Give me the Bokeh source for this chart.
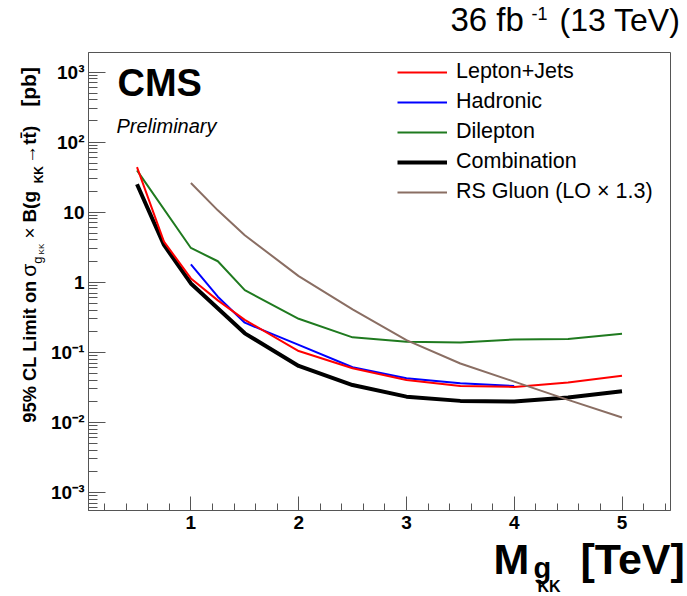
import math
from bokeh.plotting import figure
from bokeh.layouts import column, row
from bokeh.models import Range1d, FixedTicker, Label, Legend, LegendItem
from bokeh.embed import file_html
from bokeh.resources import INLINE

# Expected 95% CL upper limits on sigma x B(g_KK -> ttbar) [pb] versus KK gluon mass [TeV]
mass_lj = [0.5, 0.75, 1.0, 1.25, 1.5, 2.0, 2.5, 3.0, 3.5, 4.0, 4.5, 5.0]
limit_lj = [44.0, 3.8, 1.13, 0.55, 0.29, 0.104, 0.059, 0.040, 0.033, 0.032, 0.037, 0.046]

mass_had = [1.0, 1.25, 1.5, 2.0, 2.5, 3.0, 3.5, 4.0]
limit_had = [1.79, 0.62, 0.264, 0.127, 0.061, 0.0424, 0.036, 0.033]

mass_dil = [0.5, 1.0, 1.25, 1.5, 2.0, 2.5, 3.0, 3.5, 4.0, 4.5, 5.0]
limit_dil = [39.5, 3.08, 1.99, 0.77, 0.30, 0.163, 0.141, 0.138, 0.152, 0.154, 0.184]

mass_comb = [0.5, 0.75, 1.0, 1.5, 2.0, 2.5, 3.0, 3.5, 4.0, 4.5, 5.0]
limit_comb = [25.0, 3.4, 0.96, 0.186, 0.0636, 0.034, 0.0232, 0.0202, 0.0198, 0.0225, 0.0277]

mass_rs = [1.0, 1.25, 1.5, 2.0, 2.5, 3.0, 3.5, 4.0, 4.5, 5.0]
xsec_rs = [26.0, 10.6, 4.68, 1.22, 0.41, 0.149, 0.069, 0.038, 0.0209, 0.0117]

x_ticks = [1, 2, 3, 4, 5]
x_minor = [round(0.2 * i, 1) for i in range(1, 28)]
y_ticks = [1e-3, 1e-2, 1e-1, 1.0, 10.0, 1e2, 1e3]
y_tick_labels = ["10\u207b\u00b3", "10\u207b\u00b2", "10\u207b\u00b9", "1", "10", "10\u00b2", "10\u00b3"]
y_minor = [k * 10.0 ** d for d in range(-4, 4) for k in range(2, 10) if 5.5e-4 < k * 10.0 ** d < 1.9e3]

FONT = "Liberation Sans"
FRAME = "#555555"
BASE_SHIFT = 0.38    # label anchor sits this many ems above the drawn baseline

W, H = 687, 596
HEAD_H = 46          # strip holding the luminosity/energy header
XT_H = 60            # strip holding the x-axis title
YT_W = 46            # strip holding the rotated y-axis title
MID_H = H - HEAD_H - XT_H


def text_strip(width, height):
    """Blank figure whose data coordinates equal its own pixels (y downwards)."""
    f = figure(width=width, height=height, x_range=Range1d(0, width), y_range=Range1d(height, 0),
               output_backend="svg", toolbar_location=None, x_axis_location=None,
               y_axis_location=None, min_border=0)
    f.xgrid.visible = False
    f.ygrid.visible = False
    f.outline_line_color = None
    f.background_fill_color = "white"
    f.border_fill_color = "white"
    return f


def put(fig, x, y, s, size, style="normal", rotated=False):
    """Place text so that its baseline passes through (x, y) in strip pixels."""
    if rotated:
        x, angle = x - BASE_SHIFT * size, math.pi / 2
    else:
        y, angle = y - BASE_SHIFT * size, 0.0
    fig.add_layout(Label(x=x, y=y, text=s, text_font=FONT, text_font_size=f"{size}px",
                         text_font_style=style, text_color="black", angle=angle,
                         text_align="left", text_baseline="alphabetic"))


# ---- main plotting area -------------------------------------------------
FRAME_L, FRAME_B = 88, 510
p = figure(width=W - YT_W, height=MID_H, x_range=Range1d(0.05, 5.45),
           y_range=Range1d(5.5e-4, 1.9e3), y_axis_type="log",
           output_backend="svg", toolbar_location=None,
           min_border_left=FRAME_L - YT_W, min_border_right=17,
           min_border_top=52 - HEAD_H, min_border_bottom=HEAD_H + MID_H - FRAME_B)
p.xgrid.visible = False
p.ygrid.visible = False
p.outline_line_color = FRAME
p.outline_line_width = 1
p.background_fill_color = "white"
p.border_fill_color = "white"

xa = p.xaxis[0]
xa.ticker = FixedTicker(ticks=x_ticks, minor_ticks=x_minor)
xa.major_tick_in = 14
xa.major_tick_out = 0
xa.minor_tick_in = 7
xa.minor_tick_out = 0
xa.axis_line_color = FRAME
xa.major_tick_line_color = FRAME
xa.minor_tick_line_color = FRAME
xa.major_label_text_font = FONT
xa.major_label_text_font_style = "bold"
xa.major_label_text_font_size = "19px"
xa.major_label_text_color = "black"
xa.major_label_standoff = 5

ya = p.yaxis[0]
ya.ticker = FixedTicker(ticks=y_ticks, minor_ticks=y_minor)
ya.major_label_overrides = {t: lab for t, lab in zip(y_ticks, y_tick_labels)}
ya.major_tick_in = 17
ya.major_tick_out = 0
ya.minor_tick_in = 9
ya.minor_tick_out = 0
ya.axis_line_color = FRAME
ya.major_tick_line_color = FRAME
ya.minor_tick_line_color = FRAME
ya.major_label_text_font = FONT
ya.major_label_text_font_style = "bold"
ya.major_label_text_font_size = "19px"
ya.major_label_text_color = "black"
ya.major_label_standoff = 4

r_comb = p.line(mass_comb, limit_comb, line_color="black", line_width=4)
r_dil = p.line(mass_dil, limit_dil, line_color="#1f7a1f", line_width=2)
r_had = p.line(mass_had, limit_had, line_color="#0000ff", line_width=2)
r_lj = p.line(mass_lj, limit_lj, line_color="#ff0000", line_width=2)
r_rs = p.line(mass_rs, xsec_rs, line_color="#8a6e63", line_width=2)

legend = Legend(items=[
    LegendItem(label="Lepton+Jets", renderers=[r_lj]),
    LegendItem(label="Hadronic", renderers=[r_had]),
    LegendItem(label="Dilepton", renderers=[r_dil]),
    LegendItem(label="Combination", renderers=[r_comb]),
    LegendItem(label="RS Gluon (LO \u00d7 1.3)", renderers=[r_rs]),
], location=(309, 306), orientation="vertical", border_line_color=None,
   background_fill_alpha=0, padding=0, margin=0, spacing=5,
   glyph_width=50, glyph_height=24, label_height=24, label_standoff=9,
   label_text_font=FONT, label_text_font_size="21.5px", label_text_color="black")
p.add_layout(legend)


def tag(x, y, s, size, style):
    """Text inside the frame, baseline at page pixel (x, y)."""
    p.add_layout(Label(x=x - FRAME_L, y=FRAME_B - y + BASE_SHIFT * size,
                       x_units="screen", y_units="screen", text=s, text_font=FONT,
                       text_font_size=f"{size}px", text_font_style=style,
                       text_color="black", text_baseline="alphabetic"))


tag(117, 97, "CMS", 38, "bold")
tag(116, 133, "Preliminary", 20, "italic")

# ---- header ----------------------------------------------------------------
head = text_strip(W, HEAD_H)
put(head, 450, 32, "36 fb", 33)
put(head, 531, 20, "-1", 18)
put(head, 559, 32, "(13 TeV)", 32)

# ---- x-axis title ----------------------------------------------------------
xt = text_strip(W, XT_H)
y0 = HEAD_H + MID_H
put(xt, 493, 575 - y0, "M", 43, "bold")
put(xt, 533, 579 - y0, "g", 29, "bold")
put(xt, 537, 592 - y0, "KK", 16, "bold")
put(xt, 580, 575 - y0, "[TeV]", 43, "bold")

# ---- y-axis title (rotated, reads bottom to top) ---------------------------
yt = text_strip(YT_W, MID_H)
dy = HEAD_H
put(yt, 36, 442 - dy, "95% CL Limit on", 18.3, "bold", True)
put(yt, 36, 286 - dy, "\u03c3", 21, "normal", True)
put(yt, 41.5, 272 - dy, "g", 13, "normal", True)
put(yt, 44, 262 - dy, "KK", 8, "normal", True)
put(yt, 36, 245 - dy, "\u00d7", 19, "normal", True)
put(yt, 36, 228 - dy, "B(g", 19, "bold", True)
put(yt, 43, 186 - dy, "KK", 12, "bold", True)
put(yt, 36, 165 - dy, "\u2192tt\u0304)", 19, "bold", True)
put(yt, 36, 104 - dy, "[pb]", 21, "bold", True)

layout = column(head, row(yt, p, spacing=0), xt, spacing=0)
open("out.html", "w").write(file_html(layout, INLINE))
